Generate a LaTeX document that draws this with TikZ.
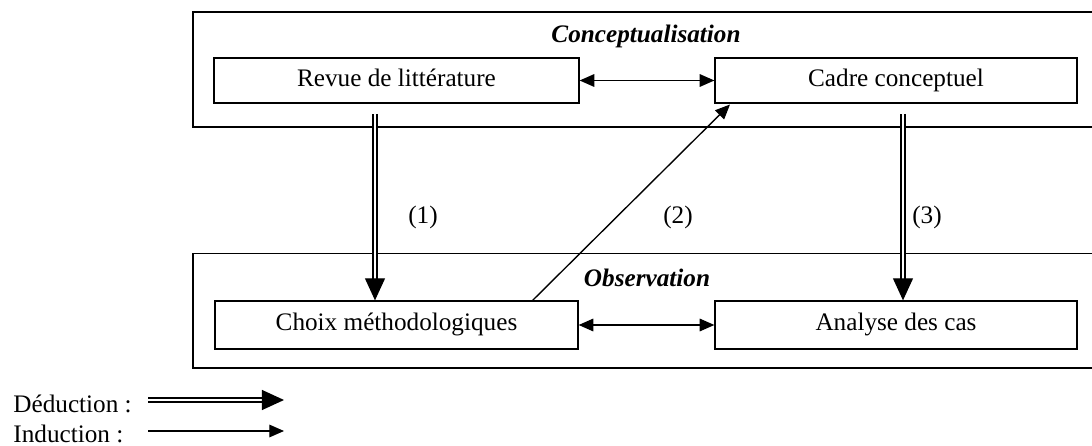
\documentclass[tikz,border=0pt]{standalone}
\usepackage{fontspec}
\setmainfont{Liberation Serif}
\usetikzlibrary{arrows.meta,calc}
\def\u{0.476pt}
\begin{document}
\begin{tikzpicture}[x=0.476pt,y=-0.476pt,
  txt/.style={font=\fontsize{12}{14}\selectfont, inner sep=0pt},
  outerbox/.style={draw, line width=0.65pt, inner sep=0pt, minimum width=906*\u},
  inbox/.style={draw, line width=0.6pt, inner sep=0pt, text height=8.2pt, text depth=2.6pt, font=\fontsize{12}{14}\selectfont},
  title/.style={font=\fontsize{12}{14}\selectfont\bfseries\itshape, inner sep=0pt, anchor=base},
  ind/.style={line width=0.65pt, -{Triangle[length=7pt,width=6pt]}},
  indboth/.style={line width=0.65pt, {Triangle[length=7pt,width=6pt]}-{Triangle[length=7pt,width=6pt]}},
  ded/.style={line width=0.6pt, double, double distance=1.2pt, -{Triangle[length=10.5pt,width=9.5pt]}}
]
\useasboundingbox (0,0) rectangle (1092,446);

% outer frames
\node[outerbox, minimum height=115*\u] (concept) at (646,69.5) {};
\node[outerbox, minimum height=114.5*\u] (observ) at (646,310.75) {};

% titles
\node[title] (tconcept) at (646,43) {Conceptualisation};
\node[title] (tobserv) at (647,287) {Observation};

% inner boxes
\node[inbox, minimum width=365*\u, minimum height=45*\u] (revue) at (396.5,80.5) {Revue de littérature};
\node[inbox, minimum width=362*\u, minimum height=45*\u] (cadre) at (896,80.5) {Cadre conceptuel};
\node[inbox, minimum width=363*\u, minimum height=48*\u] (choix) at (396.5,325) {Choix méthodologiques};
\node[inbox, minimum width=362*\u, minimum height=48*\u] (analyse) at (896,325) {Analyse des cas};

% horizontal links
\draw[indboth] (revue.east) -- (cadre.west);
\draw[indboth] (choix.east) -- (analyse.west);

% deduction arrows
\coordinate (d1) at (375,114);
\coordinate (d3) at (903,114);
\draw[ded] (d1) -- (choix.north -| d1);
\draw[ded] (d3) -- (analyse.north -| d3);

% induction diagonal
\coordinate (i2s) at (532,301);
\coordinate (i2e) at (730,104.5);
\draw[ind] (i2s) -- (i2e);

% labels
\node[txt] (l1) at (423,217) {(1)};
\node[txt] (l2) at (678,217) {(2)};
\node[txt] (l3) at (927,217) {(3)};

% legend
\node[txt, anchor=base west] (ldeduc) at (13,413) {Déduction :};
\node[txt, anchor=base west] (linduc) at (13,443) {Induction :};
\coordinate (lda) at (148,400);
\coordinate (ldb) at (284,400);
\coordinate (lia) at (148,431);
\coordinate (lib) at (284,431);
\draw[ded] (lda) -- (ldb);
\draw[ind] (lia) -- (lib);
\end{tikzpicture}
\end{document}
